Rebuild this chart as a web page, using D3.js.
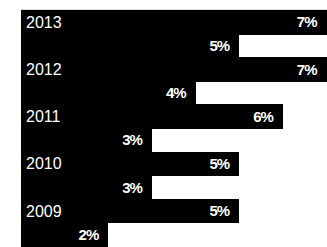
<!DOCTYPE html>
<html>
<head>
<meta charset="utf-8">
<script src="https://cdn.jsdelivr.net/npm/d3@7"></script>
<style>
html,body{margin:0;padding:0;background:#fff;}
svg{display:block;}
</style>
</head>
<body>
<svg id="chart" width="327" height="247"></svg>
<script>
const years = ["2013", "2012", "2011", "2010", "2009"];
const seriesA = [7, 7, 6, 5, 5];   // upper bar of each year (with year label)
const seriesB = [5, 4, 3, 3, 2];   // lower bar of each year
const valueLabels = v => v + "%";

const rows = [];
years.forEach((y, i) => {
  rows.push({key: y + "-a", year: y, value: seriesA[i], first: true});
  rows.push({key: y + "-b", year: y, value: seriesB[i], first: false});
});

const svg = d3.select("#chart");
const x = d3.scaleLinear().domain([0, 7]).range([21, 326.5]);
const yb = d3.scaleBand().domain(rows.map(r => r.key)).range([10, 246]).paddingInner(0).paddingOuter(0);

svg.append("line")
  .attr("x1", 21).attr("x2", 327).attr("y1", 9.5).attr("y2", 9.5)
  .attr("stroke", "#dcdcdc").attr("stroke-width", 1);

svg.selectAll("rect.bar").data(rows).join("rect")
  .attr("class", "bar")
  .attr("x", Math.round(x(0)))
  .attr("y", d => Math.round(yb(d.key)))
  .attr("width", d => Math.round(x(d.value) - x(0)))
  .attr("height", d => Math.round(yb(d.key) + yb.bandwidth()) - Math.round(yb(d.key)) + 1)
  .attr("shape-rendering", "crispEdges")
  .attr("fill", "#000");

svg.selectAll("text.val").data(rows).join("text")
  .attr("class", "val")
  .attr("x", d => x(d.value) - 10)
  .attr("y", d => yb(d.key) + yb.bandwidth() / 2 + 5.5)
  .attr("text-anchor", "end")
  .attr("fill", "#fff")
  .attr("font-family", "'Liberation Sans', Arial, sans-serif")
  .attr("font-weight", "bold")
  .attr("font-size", "15px")
  .attr("letter-spacing", "-1px")
  .text(d => valueLabels(d.value));

svg.selectAll("text.year").data(rows.filter(r => r.first)).join("text")
  .attr("class", "year")
  .attr("x", 26)
  .attr("y", d => yb(d.key) + yb.bandwidth() / 2 + 6)
  .attr("fill", "#fff")
  .attr("font-family", "'Liberation Sans', Arial, sans-serif")
  .attr("font-size", "16px")
  .text(d => d.year);
</script>
</body>
</html>
